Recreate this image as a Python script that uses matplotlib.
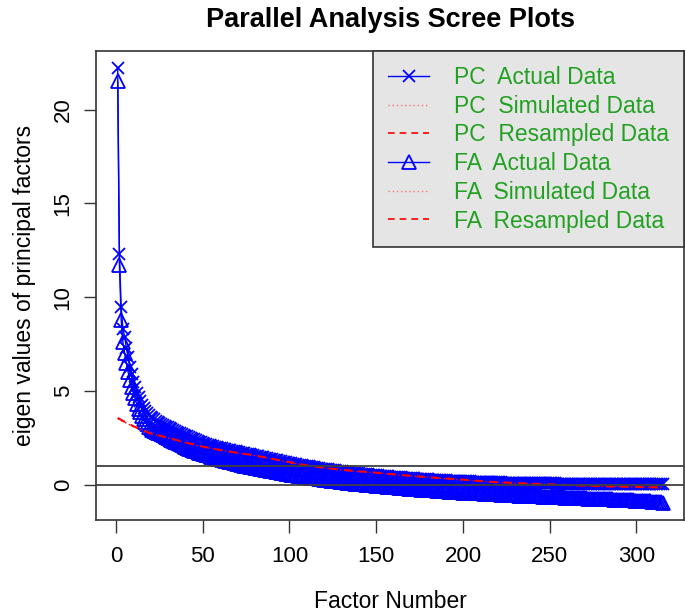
import numpy as np
import matplotlib
matplotlib.use("Agg")
import matplotlib.pyplot as plt

plt.rcParams['font.family'] = ['Liberation Sans', 'DejaVu Sans']

# eigen values, factor 1..315
pc_actual = [
    22.2, 12.3, 9.5, 8.3, 7.9, 7.3, 6.8, 6.3, 5.9, 5.5,
    5.2, 4.9, 4.65, 4.45, 4.25, 4.1, 3.95, 3.82, 3.7, 3.6,
    3.54, 3.48, 3.42, 3.36, 3.30, 3.25, 3.2, 3.15, 3.1, 3.05,
    3.0, 2.95, 2.91, 2.87, 2.82, 2.78, 2.74, 2.7, 2.66, 2.62,
    2.58, 2.54, 2.50, 2.46, 2.42, 2.38, 2.34, 2.30, 2.26, 2.22,
    2.19, 2.16, 2.13, 2.10, 2.07, 2.04, 2.01, 1.99, 1.97, 1.95,
    1.93, 1.91, 1.89, 1.87, 1.85, 1.83, 1.81, 1.79, 1.77, 1.75,
    1.73, 1.71, 1.69, 1.67, 1.65, 1.63, 1.61, 1.59, 1.57, 1.55,
    1.53, 1.51, 1.49, 1.47, 1.45, 1.43, 1.41, 1.39, 1.37, 1.35,
    1.33, 1.31, 1.29, 1.27, 1.25, 1.23, 1.21, 1.19, 1.17, 1.15,
    1.13, 1.11, 1.10, 1.08, 1.06, 1.05, 1.03, 1.01, 1.00, 0.98,
    0.97, 0.95, 0.94, 0.92, 0.91, 0.89, 0.88, 0.86, 0.85, 0.83,
    0.82, 0.81, 0.79, 0.78, 0.77, 0.76, 0.74, 0.73, 0.72, 0.71,
    0.70, 0.68, 0.67, 0.66, 0.65, 0.64, 0.63, 0.62, 0.61, 0.60,
    0.59, 0.58, 0.57, 0.56, 0.55, 0.54, 0.53, 0.52, 0.51, 0.50,
    0.49, 0.48, 0.47, 0.46, 0.46, 0.45, 0.44, 0.43, 0.42, 0.42,
    0.41, 0.40, 0.39, 0.39, 0.38, 0.37, 0.36, 0.36, 0.35, 0.34,
    0.34, 0.33, 0.32, 0.32, 0.31, 0.30, 0.30, 0.29, 0.29, 0.28,
    0.27, 0.27, 0.26, 0.26, 0.25, 0.25, 0.24, 0.24, 0.23, 0.23,
    0.22, 0.22, 0.21, 0.21, 0.20, 0.20, 0.19, 0.19, 0.18, 0.18,
    0.18, 0.17, 0.17, 0.17, 0.16, 0.16, 0.16, 0.15, 0.15, 0.15,
    0.14, 0.14, 0.14, 0.14, 0.13, 0.13, 0.13, 0.13, 0.12, 0.12,
    0.12, 0.12, 0.11, 0.11, 0.11, 0.11, 0.11, 0.10, 0.10, 0.10,
    0.10, 0.10, 0.09, 0.09, 0.09, 0.09, 0.09, 0.09, 0.08, 0.08,
    0.08, 0.08, 0.08, 0.08, 0.08, 0.07, 0.07, 0.07, 0.07, 0.07,
    0.07, 0.07, 0.07, 0.06, 0.06, 0.06, 0.06, 0.06, 0.06, 0.06,
    0.06, 0.06, 0.05, 0.05, 0.05, 0.05, 0.05, 0.05, 0.05, 0.05,
    0.05, 0.05, 0.05, 0.05, 0.04, 0.04, 0.04, 0.04, 0.04, 0.04,
    0.04, 0.04, 0.04, 0.04, 0.04, 0.04, 0.03, 0.03, 0.03, 0.03,
    0.03, 0.03, 0.03, 0.03, 0.03, 0.03, 0.03, 0.03, 0.03, 0.03,
    0.02, 0.02, 0.02, 0.02, 0.02, 0.02, 0.02, 0.02, 0.02, 0.02,
    0.02, 0.01, 0.01, 0.01, 0.01,
]

fa_actual = [
    21.5, 11.7, 8.8, 7.6, 7.0, 6.5, 6.0, 5.6, 5.2, 4.9,
    4.6, 4.3, 4.05, 3.85, 3.65, 3.5, 3.35, 3.22, 3.1, 3.0,
    2.94, 2.88, 2.83, 2.78, 2.73, 2.68, 2.63, 2.59, 2.54, 2.5,
    2.45, 2.40, 2.35, 2.30, 2.25, 2.20, 2.15, 2.10, 2.05, 2.00,
    1.96, 1.92, 1.88, 1.84, 1.80, 1.77, 1.74, 1.71, 1.68, 1.65,
    1.62, 1.59, 1.56, 1.53, 1.50, 1.47, 1.44, 1.41, 1.38, 1.35,
    1.33, 1.30, 1.28, 1.26, 1.23, 1.21, 1.19, 1.16, 1.14, 1.12,
    1.09, 1.07, 1.05, 1.02, 1.00, 0.98, 0.96, 0.95, 0.93, 0.91,
    0.89, 0.87, 0.86, 0.84, 0.82, 0.80, 0.78, 0.77, 0.75, 0.73,
    0.71, 0.69, 0.68, 0.66, 0.64, 0.62, 0.60, 0.59, 0.57, 0.55,
    0.54, 0.52, 0.51, 0.50, 0.48, 0.47, 0.45, 0.44, 0.43, 0.41,
    0.40, 0.38, 0.37, 0.36, 0.34, 0.33, 0.31, 0.30, 0.29, 0.27,
    0.26, 0.25, 0.23, 0.22, 0.20, 0.19, 0.18, 0.17, 0.16, 0.15,
    0.14, 0.13, 0.11, 0.10, 0.09, 0.08, 0.07, 0.06, 0.05, 0.04,
    0.03, 0.02, 0.01, 0.00, -0.01, -0.02, -0.03, -0.04, -0.04, -0.05,
    -0.06, -0.07, -0.08, -0.09, -0.09, -0.10, -0.11, -0.12, -0.13, -0.13,
    -0.14, -0.15, -0.16, -0.17, -0.17, -0.18, -0.19, -0.20, -0.21, -0.21,
    -0.22, -0.23, -0.24, -0.24, -0.25, -0.26, -0.26, -0.27, -0.28, -0.29,
    -0.29, -0.30, -0.31, -0.31, -0.32, -0.33, -0.33, -0.34, -0.35, -0.35,
    -0.36, -0.37, -0.37, -0.38, -0.39, -0.39, -0.40, -0.41, -0.41, -0.42,
    -0.42, -0.43, -0.43, -0.44, -0.44, -0.45, -0.45, -0.46, -0.46, -0.47,
    -0.47, -0.48, -0.48, -0.49, -0.49, -0.50, -0.50, -0.51, -0.51, -0.52,
    -0.52, -0.53, -0.53, -0.54, -0.54, -0.55, -0.55, -0.56, -0.56, -0.57,
    -0.57, -0.58, -0.58, -0.59, -0.59, -0.60, -0.60, -0.61, -0.61, -0.62,
    -0.62, -0.62, -0.63, -0.63, -0.63, -0.64, -0.64, -0.64, -0.65, -0.65,
    -0.65, -0.66, -0.66, -0.67, -0.67, -0.67, -0.68, -0.68, -0.69, -0.69,
    -0.69, -0.70, -0.70, -0.71, -0.71, -0.71, -0.72, -0.72, -0.73, -0.73,
    -0.73, -0.74, -0.74, -0.75, -0.75, -0.75, -0.76, -0.76, -0.77, -0.77,
    -0.77, -0.78, -0.78, -0.79, -0.79, -0.79, -0.80, -0.80, -0.81, -0.81,
    -0.81, -0.82, -0.82, -0.83, -0.83, -0.83, -0.84, -0.84, -0.85, -0.85,
    -0.86, -0.86, -0.87, -0.87, -0.88, -0.88, -0.89, -0.89, -0.90, -0.90,
    -0.91, -0.92, -0.93, -0.94, -0.96,
]

# red reference lines, read at a subset of factors
pc_line_factor = [1, 5, 10, 15, 20, 30, 40, 50, 60, 70, 80, 90, 100, 110, 120, 130, 140,
                  150, 160, 170, 180, 190, 200, 210, 220, 230, 240, 250, 260, 270, 280,
                  290, 300, 315]
pc_resamp = [3.56, 3.35, 3.12, 2.92, 2.73, 2.50, 2.25, 2.03, 1.85, 1.70, 1.56, 1.38, 1.20,
             1.03, 0.90, 0.79, 0.71, 0.64, 0.55, 0.47, 0.40, 0.33, 0.27, 0.19, 0.13, 0.09,
             0.05, 0.02, -0.02, -0.05, -0.08, -0.10, -0.12, -0.15]
pc_sim = [3.52, 3.33, 3.10, 2.90, 2.72, 2.49, 2.24, 2.02, 1.84, 1.69, 1.55, 1.37, 1.19,
          1.02, 0.89, 0.78, 0.70, 0.63, 0.54, 0.46, 0.39, 0.32, 0.26, 0.18, 0.12, 0.08,
          0.04, 0.01, -0.03, -0.06, -0.09, -0.11, -0.13, -0.16]

fa_line_factor = [20, 30, 40, 50, 60, 75, 100, 125, 150, 175, 200, 225, 250, 275, 300, 315]
fa_resamp = [2.90, 2.45, 2.10, 1.75, 1.50, 1.15, 0.70, 0.35, 0.10, -0.10, -0.25, -0.38,
             -0.48, -0.58, -0.66, -0.72]
fa_sim = [2.88, 2.43, 2.08, 1.73, 1.48, 1.13, 0.68, 0.33, 0.08, -0.12, -0.27, -0.40,
          -0.50, -0.60, -0.68, -0.74]

legend_labels = ["PC  Actual Data", "PC  Simulated Data", "PC  Resampled Data",
                 "FA  Actual Data", "FA  Simulated Data", "FA  Resampled Data"]
x_ticks = [0, 50, 100, 150, 200, 250, 300]
y_ticks = [0, 5, 10, 15, 20]

factors = np.arange(1, len(pc_actual) + 1)

fig = plt.figure(figsize=(6.85, 6.14), dpi=100)
ax = fig.add_axes([0.140, 0.153, 0.859, 0.764])

blue = "#0000FF"
red = "#FF0000"
dotted = (0, (1, 2))
dashed = (0, (4, 3))

ax.plot(fa_line_factor, fa_sim, color=red, ls=dotted, lw=1.0, zorder=1)
ax.plot(fa_line_factor, fa_resamp, color=red, ls=dashed, lw=1.5, zorder=1)

h_pc, = ax.plot(factors, pc_actual, color=blue, lw=1.0, marker="x", ms=8, mew=1.3, zorder=2)
h_fa, = ax.plot(factors, fa_actual, color=blue, lw=1.0, marker="^", ms=10, mew=1.3,
                mfc="none", zorder=2)

ax.plot(pc_line_factor, pc_sim, color=red, ls=dotted, lw=1.0, zorder=3)
ax.plot(pc_line_factor, pc_resamp, color=red, ls=dashed, lw=1.5, zorder=4)

ax.axhline(1, color="#404040", lw=1.3, zorder=5)
ax.axhline(0, color="#404040", lw=1.3, zorder=5)

# R style 4% padding
xmin, xmax = factors.min(), factors.max()
ymin = min(min(pc_actual), min(fa_actual))
ymax = max(max(pc_actual), max(fa_actual))
ax.set_xlim(xmin - 0.04 * (xmax - xmin), xmax + 0.04 * (xmax - xmin))
ax.set_ylim(ymin - 0.04 * (ymax - ymin), ymax + 0.04 * (ymax - ymin))

ax.set_xticks(x_ticks)
ax.set_yticks(y_ticks)
ax.set_yticklabels([str(v) for v in y_ticks], rotation=90, va="center")
ax.tick_params(direction="out", length=9, width=1.0, color="#333333",
               labelsize=16, pad=7)
ax.tick_params(axis="x", pad=10)
for s in ax.spines.values():
    s.set_color("#333333")
    s.set_linewidth(1.2)

ax.set_xlabel("Factor Number", fontsize=16.5, labelpad=16)
ax.set_ylabel("eigen values of principal factors", fontsize=16.5, labelpad=12)
ax.set_title("Parallel Analysis Scree Plots", fontsize=19.5, fontweight="bold", pad=17)

# legend keys
sim_key = plt.Line2D([], [], color="#FF7070", ls=dotted, lw=1.0)
res_key = plt.Line2D([], [], color=red, ls=dashed, lw=1.2)
leg = ax.legend([h_pc, sim_key, res_key, h_fa, sim_key, res_key], legend_labels,
                loc="upper right", borderaxespad=0, fancybox=False, framealpha=1,
                facecolor="#E5E5E5", edgecolor="#333333", fontsize=16.5,
                labelcolor="#22A022", handlelength=1.8, handletextpad=1.1,
                labelspacing=0.25, borderpad=0.65)
leg.get_frame().set_linewidth(1.2)
leg.set_zorder(10)

fig.savefig("out.png", dpi=100)
